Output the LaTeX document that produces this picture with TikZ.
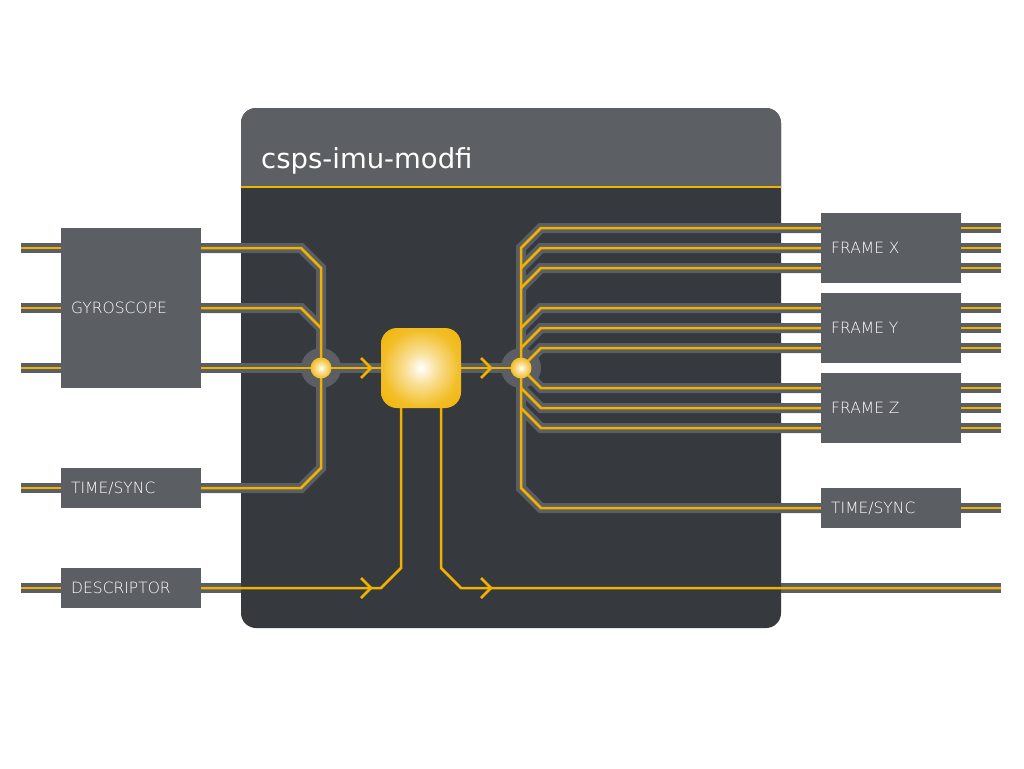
\documentclass[tikz,border=0pt]{standalone}
\usepackage{fontspec}
\setmainfont{DejaVu Sans}
\newfontfamily\thinfont{DejaVu Sans ExtraLight}
\definecolor{band}{HTML}{5B5E63}
\definecolor{body}{HTML}{36393D}
\definecolor{head}{HTML}{5C5F64}
\definecolor{gold}{HTML}{F0B200}
\pgfdeclareradialshading{glow}{\pgfpoint{0bp}{0bp}}{color(0bp)=(white); color(10bp)=(gold!40!white); color(24bp)=(gold!85!white); color(38bp)=(gold); color(50bp)=(gold)}
\pgfdeclarelayer{bg}
\pgfdeclarelayer{bands}
\pgfdeclarelayer{wires}
\pgfsetlayers{bg,bands,wires,main}
\newcommand\bus[1]{%
  \begin{pgfonlayer}{bands}\path[bandline] #1;\end{pgfonlayer}%
  \begin{pgfonlayer}{wires}\path[wire] #1;\end{pgfonlayer}}
\newcommand\wireonly[1]{\begin{pgfonlayer}{wires}\path[wire] #1;\end{pgfonlayer}}
\newcommand\bandonly[1]{\begin{pgfonlayer}{bands}\path[bandline] #1;\end{pgfonlayer}}
\begin{document}
\begin{tikzpicture}[x=1pt,y=-1pt,
  bandline/.style={draw=band, line width=10pt, line join=miter},
  wire/.style={draw=gold, line width=2.5pt, line join=miter},
  chev/.style={draw=gold, line width=2.5pt, line join=miter},
  blk/.style={fill=band, draw=none, minimum width=140pt, inner sep=0pt},
  lbl/.style={text=white, font=\thinfont\fontsize{15.5}{17}\selectfont, anchor=base west, inner sep=0pt},
  ball/.style={circle, shade, shading=glow, minimum size=21pt, inner sep=0pt}]
\useasboundingbox (0,0) rectangle (1024,768);

% main module box
\begin{pgfonlayer}{bg}
  \fill[body, rounded corners=15pt] (241,108) rectangle (781,628);
  \begin{scope}
    \clip (241,108) rectangle (781,187);
    \fill[head, rounded corners=15pt] (241,108) rectangle (781,628);
  \end{scope}
  \draw[gold, line width=2pt] (241,187) -- (781,187);
\end{pgfonlayer}
\node[text=white, font=\fontsize{27.5}{31}\selectfont, anchor=base west, inner sep=0pt] (title) at (261,168) {csps-imu-modfi};

% blocks
\node[blk, minimum height=160pt] (gyro) at (131,308) {};
\node[blk, minimum height=40pt] (tsL) at (131,488) {};
\node[blk, minimum height=40pt] (desc) at (131,588) {};
\node[blk, minimum height=70pt] (fx) at (891,248) {};
\node[blk, minimum height=70pt] (fy) at (891,328) {};
\node[blk, minimum height=70pt] (fz) at (891,408) {};
\node[blk, minimum height=40pt] (tsR) at (891,508) {};

\node[lbl] (gyrol) at (71,313.5) {GYROSCOPE};
\node[lbl] (tsLl) at (71,493.5) {TIME/SYNC};
\node[lbl] (descl) at (71,593.5) {DESCRIPTOR};
\node[lbl] (fxl) at (831,253.5) {FRAME X};
\node[lbl] (fyl) at (831,333.5) {FRAME Y};
\node[lbl] (fzl) at (831,413.5) {FRAME Z};
\node[lbl] (tsRl) at (831,513.5) {TIME/SYNC};

% core and junctions
\node[shade, shading=glow, minimum size=80pt, rounded corners=16pt, inner sep=0pt] (core) at (421,368) {};
\node[ball] (jL) at (321,368) {};
\node[ball] (jR) at (521,368) {};
\begin{pgfonlayer}{bands}
  \fill[band] (jL) circle (20pt);
  \fill[band] (jR) circle (20pt);
\end{pgfonlayer}

% outside stubs
\coordinate (i1) at (21,248);
\coordinate (i2) at (21,308);
\coordinate (i3) at (21,368);
\coordinate (i4) at (21,488);
\coordinate (i5) at (21,588);
\bus{(i1) -- ([yshift=60pt]gyro.west)}
\bus{(i2) -- (gyro.west)}
\bus{(i3) -- ([yshift=-60pt]gyro.west)}
\bus{(i4) -- (tsL.west)}
\bus{(i5) -- (desc.west)}
\foreach \b in {fx,fy,fz}{
  \bus{([yshift=20pt]\b.east) -- ++(40,0)}
  \bus{(\b.east) -- ++(40,0)}
  \bus{([yshift=-20pt]\b.east) -- ++(40,0)}
}
\coordinate (o10) at (1001,508);
\coordinate (o11) at (1001,588);
\bus{(tsR.east) -- (o10)}

% left merge
\bus{([yshift=60pt]gyro.east) -- (301,248) -- (321,268) -- (jL.center)}
\bus{(gyro.east) -- (301,308) -- (321,328)}
\bus{([yshift=-60pt]gyro.east) -- (jL.center)}
\bus{(tsL.east) -- (301,488) -- (321,468) -- (jL.center)}
\bus{(jL.center) -- (core.west)}
\bus{(core.east) -- (jR.center)}

% right fan-out
\bus{(jR.center) -- (521,248) -- (541,228) -- ([yshift=20pt]fx.west)}
\bus{(521,268) -- (541,248) -- (fx.west)}
\bus{(521,288) -- (541,268) -- ([yshift=-20pt]fx.west)}
\bus{(521,328) -- (541,308) -- ([yshift=20pt]fy.west)}
\bus{(521,348) -- (541,328) -- (fy.west)}
\bus{(jR.center) -- (541,348) -- ([yshift=-20pt]fy.west)}
\bus{(jR.center) -- (541,388) -- ([yshift=20pt]fz.west)}
\bus{(521,388) -- (541,408) -- (fz.west)}
\bus{(521,408) -- (541,428) -- ([yshift=-20pt]fz.west)}
\bus{(jR.center) -- (521,488) -- (541,508) -- (tsR.west)}

% descriptor path
\bandonly{(desc.east) -- (241,588)}
\wireonly{(desc.east) -- (381,588) -- (401,568) -- ([xshift=-20pt]core.south)}
\bandonly{(781,588) -- (o11)}
\wireonly{([xshift=20pt]core.south) -- (441,568) -- (461,588) -- (o11)}

% chevrons
\foreach \x/\y in {371/368, 491/368, 371/588, 491/588}{
  \draw[chev] (\x-10,\y-10) -- (\x,\y) -- (\x-10,\y+10);
}
\end{tikzpicture}
\end{document}
